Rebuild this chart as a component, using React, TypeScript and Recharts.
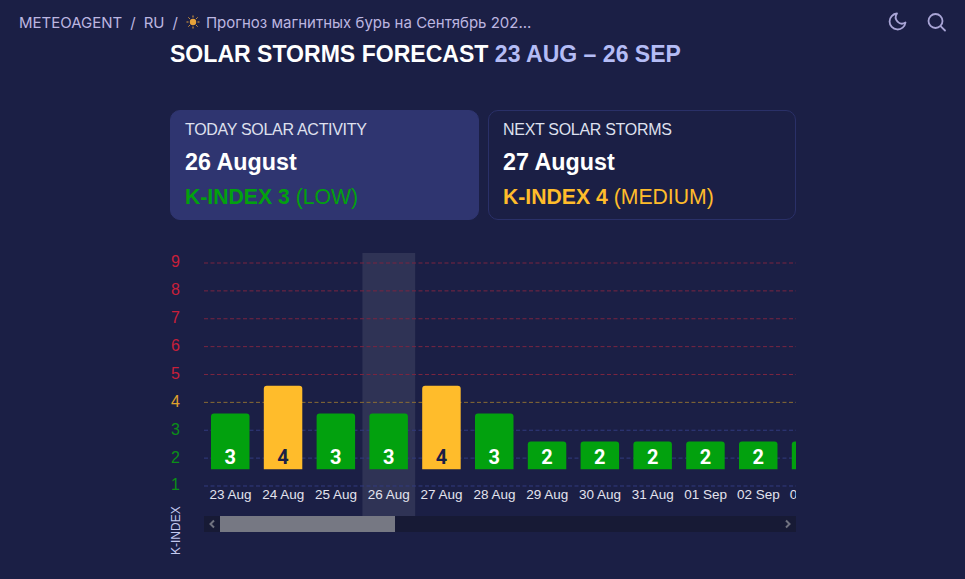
import { BarChart, Bar, XAxis, YAxis, Cell, LabelList, ReferenceLine, ReferenceArea } from 'recharts'

const dates = ['23 Aug', '24 Aug', '25 Aug', '26 Aug', '27 Aug', '28 Aug', '29 Aug', '30 Aug', '31 Aug', '01 Sep', '02 Sep', '03 Sep']
const kIndex = [3, 4, 3, 3, 4, 3, 2, 2, 2, 2, 2, 2]
const kLevels = [1, 2, 3, 4, 5, 6, 7, 8, 9]
const todayIndex = 3

const GREEN = '#02a10e'
const YELLOW = '#ffbc2b'
const RED = '#c8203a'

const chartData = dates.map((date, i) => ({ date, slot: i, k: kIndex[i], range: [1, kIndex[i]] }))

const levelColor = (k: number) => (k <= 3 ? '#0b8f17' : k === 4 ? '#e0a22c' : RED)
const gridColor = (k: number) => (k <= 3 ? '#323b80' : k === 4 ? '#8c6c34' : '#7a2540')

function YTick({ x, y, payload }: any) {
  return (
    <text x={x - 25} y={y + 4.5} fill={levelColor(payload.value)} fontSize={16} fontFamily="Liberation Sans">
      {payload.value}
    </text>
  )
}

function BarValue({ x, y, width, height, value }: any) {
  return (
    <text
      x={x + width / 2}
      y={y + height - 5}
      textAnchor="middle"
      fill={value === 4 ? '#1b1f45' : '#fff'}
      fontSize={20}
      fontWeight={700}
      fontFamily="Roboto"
    >
      {value}
    </text>
  )
}

function Card({ left, width, bg, border, title, date, color, value, level }: any) {
  return (
    <div style={{ position: 'absolute', left, top: 110, width, height: 110, boxSizing: 'border-box', background: bg, border: `1px solid ${border}`, borderRadius: 10, fontFamily: 'Liberation Sans' }}>
      <div style={{ position: 'absolute', left: 14, top: 10, fontSize: 16, letterSpacing: -0.3, color: '#dfe0ee', whiteSpace: 'nowrap' }}>{title}</div>
      <div style={{ position: 'absolute', left: 14, top: 38, fontSize: 23.3, fontWeight: 700, color: '#fff', whiteSpace: 'nowrap' }}>{date}</div>
      <div style={{ position: 'absolute', left: 14, top: 74, fontSize: 21.2, color, whiteSpace: 'nowrap' }}>
        <b>K-INDEX {value}</b> ({level})
      </div>
    </div>
  )
}

export default function App() {
  return (
    <div style={{ position: 'fixed', left: 0, top: 0, width: 965, height: 579, overflow: 'hidden', background: '#1b1f45' }}>
      {/* breadcrumbs */}
      <div style={{ position: 'absolute', left: 19, top: 13, fontFamily: 'Inter', fontSize: 15, color: '#bdb6e0', whiteSpace: 'nowrap' }}>
        <span>METEOAGENT</span>
        <span style={{ margin: '0 8px' }}>/</span>
        <span>RU</span>
        <span style={{ margin: '0 8px' }}>/</span>
        <svg width="14" height="14" viewBox="0 0 14 14" style={{ verticalAlign: -1, marginRight: 6 }}>
          <circle cx="7" cy="7" r="3.2" fill="#e8a33a" />
          <g stroke="#e8a33a" strokeWidth="1">
            <path d="M7 0.5v2M7 11.5v2M0.5 7h2M11.5 7h2M2.4 2.4l1.4 1.4M10.2 10.2l1.4 1.4M2.4 11.6l1.4-1.4M10.2 3.8l1.4-1.4" />
          </g>
        </svg>
        <span>Прогноз магнитных бурь на Сентябрь 202...</span>
      </div>

      {/* moon and search */}
      <svg width="70" height="24" viewBox="0 0 70 24" style={{ position: 'absolute', left: 886, top: 10 }} fill="none" stroke="#a9a5d6" strokeWidth="1.8" strokeLinecap="round" strokeLinejoin="round">
        <path d="M19.5 12.5a8 8 0 1 1-8.5-9a6.3 6.3 0 0 0 8.5 9z" />
        <circle cx="49.5" cy="11" r="7" />
        <path d="M54.8 16.3l4.2 4.2" />
      </svg>

      <div style={{ position: 'absolute', left: 170, top: 41, fontFamily: 'Liberation Sans', fontWeight: 700, fontSize: 23.05, color: '#fff', whiteSpace: 'nowrap' }}>
        SOLAR STORMS FORECAST <span style={{ color: '#b4bcf5' }}>23 AUG – 26 SEP</span>
      </div>

      <Card left={170} width={309} bg="#2f3570" border="#2f3570" title="TODAY SOLAR ACTIVITY" date="26 August" color={GREEN} value={3} level="LOW" />
      <Card left={488} width={308} bg="#1b1f45" border="#2a3068" title="NEXT SOLAR STORMS" date="27 August" color={YELLOW} value={4} level="MEDIUM" />

      {/* the chart is wider than its box, the last bar gets cut off like in a scrolled view */}
      <div style={{ position: 'absolute', left: 160, top: 240, width: 636, height: 300, overflow: 'hidden' }}>
        <BarChart width={677.6} height={300} data={chartData} margin={{ top: 23, right: 0, bottom: 24, left: 0 }} barSize={38.5}>
          <XAxis xAxisId="date" dataKey="date" interval={0} height={30} axisLine={false} tickLine={false} tickMargin={0} tick={{ fill: '#e3e3ee', fontSize: 13.5, fontFamily: 'Liberation Sans', dy: -3 }} />
          <XAxis xAxisId="band" dataKey="slot" type="number" domain={[0, dates.length]} hide height={0} allowDataOverflow />
          <YAxis yAxisId="k" type="number" domain={[1, 9]} ticks={kLevels} interval={0} width={44} axisLine={false} tickLine={false} tick={<YTick />} allowDataOverflow />
          <YAxis yAxisId="bars" type="number" domain={[0.4, 8.4]} hide width={0} allowDataOverflow />
          <ReferenceArea xAxisId="band" yAxisId="k" x1={todayIndex} x2={todayIndex + 1} y1={-0.08} y2={9.36} ifOverflow="visible" fill="#ffffff" fillOpacity={0.09} stroke="none" zIndex={-50} />
          {kLevels.map((k) => (
            <ReferenceLine key={k} xAxisId="date" yAxisId="k" y={k} stroke={gridColor(k)} strokeDasharray="4 2.5" zIndex={-40} />
          ))}
          <Bar xAxisId="date" yAxisId="bars" dataKey="range" radius={[3, 3, 0, 0]} isAnimationActive={false}>
            {chartData.map((d) => (
              <Cell key={d.date} fill={d.k === 4 ? YELLOW : GREEN} />
            ))}
            <LabelList dataKey="k" content={<BarValue />} />
          </Bar>
        </BarChart>
      </div>

      {/* scroll bar */}
      <div style={{ position: 'absolute', left: 204, top: 516, width: 592, height: 16, background: '#171a35' }}>
        <div style={{ position: 'absolute', left: 16, width: 175, height: 16, background: '#767883' }} />
        <svg width="16" height="16" style={{ position: 'absolute', left: 0 }} fill="none" stroke="#70727f" strokeWidth="2">
          <path d="M10 4.5L6.5 8L10 11.5" />
        </svg>
        <svg width="16" height="16" style={{ position: 'absolute', right: 0 }} fill="none" stroke="#70727f" strokeWidth="2">
          <path d="M6 4.5L9.5 8L6 11.5" />
        </svg>
      </div>

      <div style={{ position: 'absolute', left: 169, top: 505, height: 50, writingMode: 'vertical-rl', transform: 'rotate(180deg)', fontFamily: 'Liberation Sans', fontSize: 12, color: '#c3c8ee', whiteSpace: 'nowrap' }}>
        K-INDEX
      </div>
    </div>
  )
}
